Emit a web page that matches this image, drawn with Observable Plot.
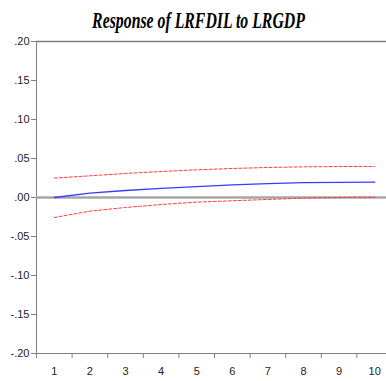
<!DOCTYPE html>
<html>
<head>
<meta charset="utf-8">
<script src="https://cdn.jsdelivr.net/npm/d3@7"></script>
<script src="https://cdn.jsdelivr.net/npm/@observablehq/plot@0.6"></script>
<style>
  html, body { margin: 0; padding: 0; background: #fff; overflow: hidden; }
  svg { overflow: hidden; }
</style>
</head>
<body>
<div id="chart"></div>
<script>
// Impulse response of LRFDIL to a shock in LRGDP, with ±2 S.E. bands
const title = "Response of LRFDIL to LRGDP";
const periods = [1, 2, 3, 4, 5, 6, 7, 8, 9, 10];
const response = [0.0, 0.0055, 0.009, 0.0118, 0.014, 0.0163, 0.0178, 0.019, 0.0195, 0.0197];
const upperBand = [0.0249, 0.0278, 0.0308, 0.0333, 0.0355, 0.0372, 0.0385, 0.0393, 0.0397, 0.0397];
const lowerBand = [-0.0256, -0.0175, -0.0128, -0.009, -0.0059, -0.0042, -0.0025, -0.0008, 0.0, 0.0005];
const yTicks = [0.20, 0.15, 0.10, 0.05, 0.00, -0.05, -0.10, -0.15, -0.20];
const yTickLabels = [".20", ".15", ".10", ".05", ".00", "-.05", "-.10", "-.15", "-.20"];
// tick marks sit between periods; the last edge (10.5) falls off the right side
const periodEdges = [0.5, 1.5, 2.5, 3.5, 4.5, 5.5, 6.5, 7.5, 8.5, 9.5];

const rows = periods.map((p, i) => ({
  period: p,
  response: response[i],
  upper: upperBand[i],
  lower: lowerBand[i]
}));

const axisColor = "#808080";
const labelFont = "'Liberation Sans', Arial, sans-serif";

const chart = Plot.plot({
  width: 386,
  height: 381,
  marginLeft: 36,
  marginTop: 41,
  marginBottom: 28,
  marginRight: 0,
  style: { fontFamily: labelFont, fontSize: "11px", color: "#222", background: "#fff", overflow: "hidden" },
  x: { domain: [0.5, 10.5], range: [36, 392] },
  y: { domain: [-0.2, 0.2] },
  marks: [
    // open box: top, bottom and left edges of the plotting area
    Plot.ruleY([0.2], { x1: 0.5, x2: 10.5, stroke: axisColor, strokeWidth: 1.5 }),
    Plot.ruleY([-0.2], { x1: 0.5, x2: 10.5, stroke: axisColor, strokeWidth: 1 }),
    Plot.ruleX([0.5], { y1: -0.2, y2: 0.2, stroke: axisColor, strokeWidth: 1 }),
    Plot.ruleY([0], { x1: 0.5, x2: 10.5, stroke: "#a6a6a6", strokeWidth: 2.5 }),
    Plot.lineY(rows, { x: "period", y: "upper", stroke: "#ff3b3b", strokeWidth: 1, strokeDasharray: "3,2" }),
    Plot.lineY(rows, { x: "period", y: "lower", stroke: "#ff3b3b", strokeWidth: 1, strokeDasharray: "3,2" }),
    Plot.lineY(rows, { x: "period", y: "response", stroke: "#3b3bff", strokeWidth: 1.3 }),
    Plot.axisY({
      ticks: yTicks,
      tickSize: 5,
      tickPadding: 2,
      stroke: axisColor,
      tickFormat: (d) => yTickLabels[yTicks.findIndex((t) => Math.abs(t - d) < 1e-9)],
      label: null
    }),
    Plot.axisX({
      ticks: periodEdges,
      tickSize: 5,
      stroke: axisColor,
      tickFormat: () => "",
      label: null
    }),
    Plot.axisX({
      ticks: periods,
      tickSize: 0,
      tickPadding: 14,
      tickFormat: (d) => String(d),
      label: null
    })
  ]
});

document.getElementById("chart").appendChild(chart);

// Condensed bold-italic serif title across the top, squeezed horizontally to 213px
const titleText = d3.select(chart)
  .append("text")
  .attr("text-anchor", "middle")
  .attr("font-family", "'Liberation Serif', 'Times New Roman', serif")
  .attr("font-size", 23)
  .attr("font-weight", "bold")
  .attr("font-style", "italic")
  .attr("fill", "#000")
  .text(title);
const naturalWidth = titleText.node().getComputedTextLength() || 310;
titleText.attr("transform", `translate(198.5,28) scale(${213 / naturalWidth},1)`);
</script>
</body>
</html>
